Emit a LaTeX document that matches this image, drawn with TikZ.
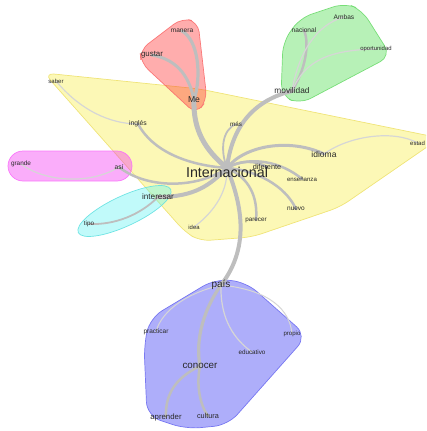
\documentclass[tikz,border=0pt]{standalone}
\usepackage{fontspec}
\setmainfont{Liberation Sans}
\newcommand\fsz[1]{\fontsize{#1}{#1}\selectfont}
\definecolor{txt}{RGB}{40,40,40}
\definecolor{hyf}{RGB}{252,248,182}\definecolor{hyd}{RGB}{240,228,120}
\definecolor{hrf}{RGB}{255,40,40}\definecolor{hrd}{RGB}{250,110,110}
\definecolor{hgf}{RGB}{67,217,67}\definecolor{hgd}{RGB}{110,220,110}
\definecolor{hmf}{RGB}{242,40,242}\definecolor{hmd}{RGB}{250,110,250}
\definecolor{hcf}{RGB}{92,243,243}\definecolor{hcd}{RGB}{100,225,225}
\definecolor{hbf}{RGB}{42,42,242}\definecolor{hbd}{RGB}{110,110,240}
\definecolor{ethick}{RGB}{190,190,190}
\definecolor{ethin}{RGB}{214,214,214}
\pgfdeclarelayer{hulls}\pgfdeclarelayer{edges}
\pgfsetlayers{hulls,edges,main}
\begin{document}
\begin{tikzpicture}[x=1pt,y=-1pt,
  lbl/.style={inner sep=0pt,text=txt},
  hull/.style={line width=0.7pt,fill opacity=0.38,draw opacity=0.9},
  ed/.style={draw=ethick,line cap=round,line width=#1},
  et/.style={draw=ethin,line cap=round,line width=#1}]
\useasboundingbox (0,0) rectangle (426,431);
% labels
\node[lbl,font=\fsz{14.3}] (inter) at (227,172) {Internacional};
\coordinate (hub) at ([yshift=4pt]inter.center);
\node[lbl,font=\fsz{8.6}] (me) at (194,100) {Me};
\node[lbl,font=\fsz{7.9}] (gustar) at (152,55) {gustar};
\node[lbl,font=\fsz{6.6}] (manera) at (182,31) {manera};
\node[lbl,font=\fsz{8.3}] (movilidad) at (292,91) {movilidad};
\node[lbl,font=\fsz{6.6}] (nacional) at (304,30) {nacional};
\node[lbl,font=\fsz{6.6}] (ambas) at (344,17) {Ambas};
\node[lbl,font=\fsz{5.9}] (oportunidad) at (376,49) {oportunidad};
\node[lbl,font=\fsz{6}] (saber) at (56,81) {saber};
\node[lbl,font=\fsz{6.8}] (ingles) at (138,124) {inglés};
\node[lbl,font=\fsz{6.3}] (mas) at (236,124) {más};
\node[lbl,font=\fsz{8.5}] (idioma) at (324,154) {idioma};
\node[lbl,font=\fsz{6},anchor=west] (estad) at (410,143) {estad};
\node[lbl,font=\fsz{7.3}] (diferente) at (267,167) {diferente};
\node[lbl,font=\fsz{6.1}] (ensenanza) at (302,179) {enseñanza};
\node[lbl,font=\fsz{6.5}] (nuevo) at (296,209) {nuevo};
\node[lbl,font=\fsz{6.3}] (parecer) at (256,220) {parecer};
\node[lbl,font=\fsz{5.9}] (idea) at (194,227) {idea};
\node[lbl,font=\fsz{8.2}] (interesar) at (158,197) {interesar};
\node[lbl,font=\fsz{6.7}] (asi) at (119,167) {así};
\node[lbl,font=\fsz{6.4}] (grande) at (21,164) {grande};
\node[lbl,font=\fsz{6.3}] (tipo) at (89,224) {tipo};
\node[lbl,font=\fsz{10}] (pais) at (221,285) {país};
\node[lbl,font=\fsz{6.5}] (practicar) at (156,332) {practicar};
\node[lbl,font=\fsz{6.1}] (propio) at (292,334) {propio};
\node[lbl,font=\fsz{6.3}] (educativo) at (252,352) {educativo};
\node[lbl,font=\fsz{9.8}] (conocer) at (200,366) {conocer};
\node[lbl,font=\fsz{7.8}] (aprender) at (166,417) {aprender};
\node[lbl,font=\fsz{7.3}] (cultura) at (208,416) {cultura};
% hulls
\begin{pgfonlayer}{hulls}
\clip (0,0) rectangle (426,431);
\path[fill=hyf,draw=hyd,line width=0.7pt,rounded corners=10] (44,73) -- (200,89) -- (440,138) -- (340,207) -- (252,237) -- (200,241) -- (185,232) -- cycle;
\path[hull,fill=hrf,draw=hrd,rounded corners=10] (140,50) -- (182,18) -- (198,22) -- (207,100) -- (196,114) -- (141,63) -- cycle;
\path[hull,fill=hgf,draw=hgd,rounded corners=12] (281,96) -- (283,42) -- (300,18) -- (345,3) -- (362,10) -- (391,56) -- (300,104) -- cycle;
\path[hull,fill=hmf,draw=hmd,rounded corners=15] (8,151) rectangle (132,181);
\path[hull,fill=hcf,draw=hcd,shift={(124.5,211)},rotate=25] (0,0) ellipse [x radius=51pt,y radius=15pt];
\path[hull,fill=hbf,draw=hbd,rounded corners=14] (215,279) -- (150,318) -- (144,345) -- (147,416) -- (186,429) -- (228,425) -- (307,336) -- (246,282) -- cycle;
\end{pgfonlayer}
% edges
\begin{pgfonlayer}{edges}
\draw[ed=5pt] (hub) .. controls (205,150) and (193,130) .. (me.center);
\draw[ed=3.2pt] (me.center) .. controls (202,75) and (198,40) .. (manera.center);
\draw[ed=3pt] (me.center) .. controls (190,80) and (180,60) .. (gustar.center);
\draw[ed=4pt] (hub) .. controls (232,125) and (255,100) .. (movilidad.center);
\draw[ed=2.5pt] (movilidad.center) .. controls (305,70) and (310,45) .. (nacional.center);
\draw[et=1.2pt] (movilidad.center) .. controls (298,55) and (315,25) .. (ambas.center);
\draw[et=1.2pt] (movilidad.center) .. controls (305,60) and (330,50) .. (oportunidad.center);
\draw[ed=3pt] (hub) .. controls (245,145) and (290,138) .. (idioma.center);
\draw[et=1.2pt] (idioma.center) .. controls (350,135) and (395,130) .. (estad.center);
\draw[ed=1.8pt] (hub) .. controls (220,150) and (222,130) .. (mas.center);
\draw[ed=2.5pt] (hub) .. controls (240,160) and (255,160) .. (diferente.center);
\draw[ed=2.5pt] (hub) .. controls (250,155) and (282,162) .. (ensenanza.center);
\draw[ed=2.5pt] (hub) .. controls (255,170) and (285,185) .. (nuevo.center);
\draw[ed=2.5pt] (hub) .. controls (250,178) and (258,198) .. (parecer.center);
\draw[et=1.2pt] (hub) .. controls (228,195) and (210,215) .. (idea.center);
\draw[ed=4pt] (hub) .. controls (240,200) and (252,245) .. (pais.center);
\draw[ed=3.2pt] (pais.center) .. controls (200,315) and (196,345) .. (conocer.center);
\draw[ed=2.5pt] (conocer.center) .. controls (175,378) and (165,395) .. (aprender.center);
\draw[ed=2.5pt] (conocer.center) .. controls (196,385) and (200,405) .. (cultura.center);
\draw[et=1.2pt] (pais.center) .. controls (220,320) and (235,340) .. (educativo.center);
\draw[et=1pt] (pais.center) .. controls (270,290) and (290,310) .. (propio.center);
\draw[et=1pt] (pais.center) .. controls (180,295) and (160,315) .. (practicar.center);
\draw[ed=4pt] (hub) .. controls (210,185) and (195,197) .. (interesar.center);
\draw[ed=1.8pt] (interesar.center) .. controls (140,215) and (115,225) .. (tipo.center);
\draw[ed=2.5pt] (hub) .. controls (195,190) and (145,188) .. (asi.center);
\draw[et=1.2pt] (asi.center) .. controls (90,185) and (45,182) .. (grande.center);
\draw[ed=2.5pt] (hub) .. controls (185,165) and (152,150) .. (ingles.center);
\draw[et=1.2pt] (ingles.center) .. controls (110,124) and (80,110) .. (saber.center);
\end{pgfonlayer}
\end{tikzpicture}
\end{document}
